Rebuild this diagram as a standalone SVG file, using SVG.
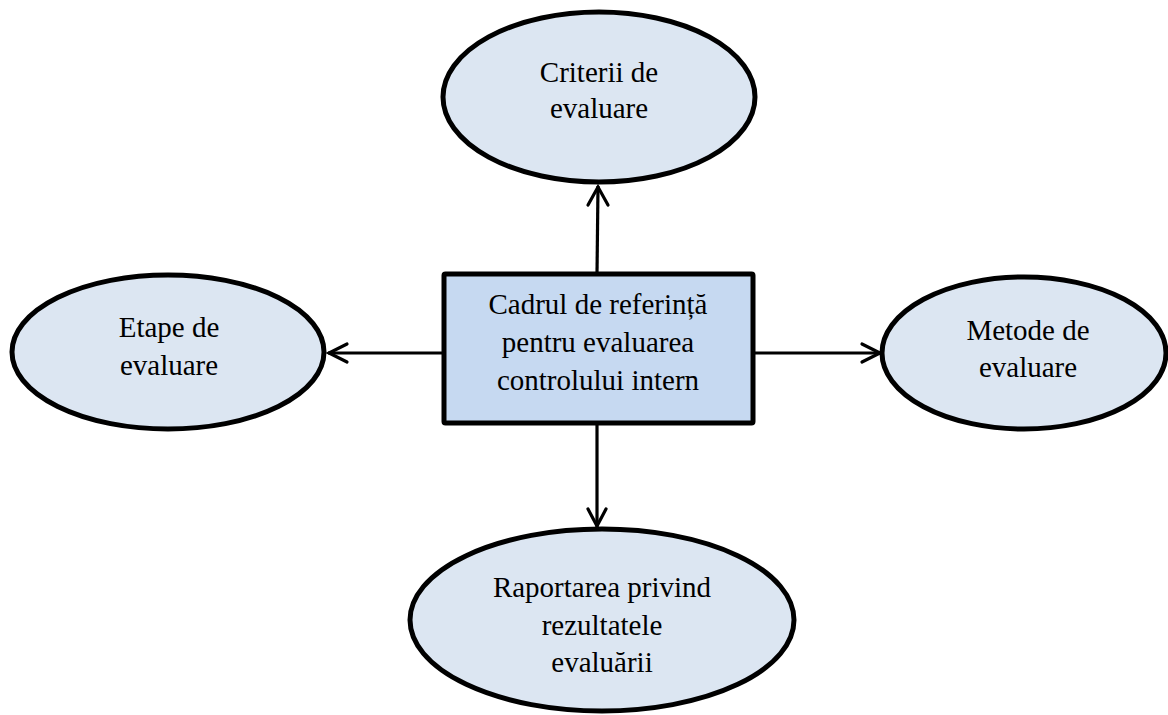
<svg xmlns="http://www.w3.org/2000/svg" width="1168" height="715" viewBox="0 0 1168 715">
  <style>
    .oval { fill: #dce6f2; stroke: #000; stroke-width: 5; }
    .box { fill: #c6d9f1; stroke: #000; stroke-width: 5; }
    .lbl { font-family: "Liberation Serif", "Times New Roman", serif; font-size: 29px; fill: #000; text-anchor: middle; }
    .wire { stroke: #000; stroke-width: 3.2; fill: none; }
    .head { stroke: #000; stroke-width: 3.2; fill: none; stroke-linecap: round; stroke-linejoin: miter; }
  </style>
  <rect width="1168" height="715" fill="#fff"/>

  <!-- connectors from the central box to each outer oval -->
  <g id="connectors">
    <line class="wire" x1="597" y1="274" x2="598" y2="186"/>
    <polyline class="head" points="588,205 598,187 608,205"/>
    <line class="wire" x1="444" y1="353" x2="328" y2="353"/>
    <polyline class="head" points="347,344 329,353 347,362"/>
    <line class="wire" x1="753" y1="353" x2="880" y2="353"/>
    <polyline class="head" points="862,344 880,353 862,362"/>
    <line class="wire" x1="597" y1="423" x2="597" y2="527"/>
    <polyline class="head" points="588,509 597,526 606,509"/>
  </g>

  <g id="node-center">
    <rect class="box" x="444" y="274" width="309" height="149" rx="1.5"/>
    <text class="lbl" x="598" y="314">Cadrul de referință</text>
    <text class="lbl" x="598" y="352">pentru evaluarea</text>
    <text class="lbl" x="598" y="390">controlului intern</text>
  </g>

  <g id="node-criterii">
    <ellipse class="oval" cx="599" cy="97" rx="156" ry="85"/>
    <text class="lbl" x="599" y="82">Criterii de</text>
    <text class="lbl" x="599" y="118">evaluare</text>
  </g>

  <g id="node-etape">
    <ellipse class="oval" cx="168" cy="352" rx="156" ry="77"/>
    <text class="lbl" x="169" y="337">Etape de</text>
    <text class="lbl" x="169" y="375">evaluare</text>
  </g>

  <g id="node-metode">
    <ellipse class="oval" cx="1024" cy="353" rx="142" ry="76"/>
    <text class="lbl" x="1028" y="340">Metode de</text>
    <text class="lbl" x="1028" y="377">evaluare</text>
  </g>

  <g id="node-raportare">
    <ellipse class="oval" cx="602" cy="620" rx="192" ry="91"/>
    <text class="lbl" x="602" y="597">Raportarea privind</text>
    <text class="lbl" x="602" y="635">rezultatele</text>
    <text class="lbl" x="602" y="672">evaluării</text>
  </g>
</svg>
